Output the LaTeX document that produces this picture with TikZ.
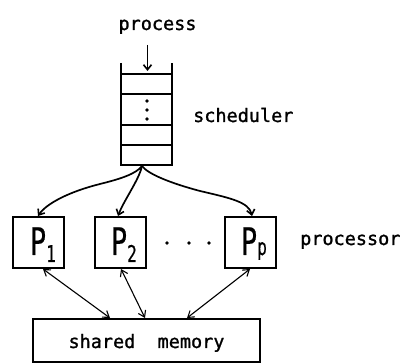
\documentclass[tikz,border=0pt]{standalone}
\usepackage{fontspec}
\setmonofont[FakeBold=1.2]{DejaVu Sans Mono}
\newfontfamily\pfont[FakeStretch=0.7,FakeBold=0.4]{DejaVu Sans Mono}
\usetikzlibrary{arrows.meta}
\begin{document}
\begin{tikzpicture}[x=1pt,y=-1pt,
  lbl/.style={inner sep=0pt,anchor=base,font=\ttfamily\fontsize{18.5}{20}\selectfont},
  pbox/.style={draw,line width=2pt,minimum width=51pt,minimum height=51pt,inner sep=0pt},
  ptext/.style={inner sep=0pt},
  wall/.style={line width=2pt},
  arr/.style={line width=1.7pt,-{Straight Barb[length=5pt,width=8pt,line width=1.6pt]}},
  biarr/.style={line width=1.1pt,{Straight Barb[length=6pt,width=8pt,line width=1.1pt]}-{Straight Barb[length=6pt,width=8pt,line width=1.1pt]}},
  dotc/.style={circle,fill,inner sep=0pt,minimum size=3.8pt}]
\useasboundingbox (0,0) rectangle (410,363);
% labels
\node[lbl] (proc) at (157.5,30) {process};
\node[lbl,anchor=base west] (sched) at (193,122) {scheduler};
\node[lbl,anchor=base west] (procr) at (300,245) {processor};
% stack
\draw[wall] (121,63) -- (121,165) -- (172,165) -- (172,63);
\foreach \yy in {74,94,125,145} \draw[wall] (121,\yy) -- (172,\yy);
\node[dotc] (d1) at (147,101) {};
\node[dotc] (d2) at (147,110) {};
\node[dotc] (d3) at (147,119) {};
\coordinate (intop) at (147.5,45);
\coordinate (inend) at (147.5,71);
\draw[arr] (intop) -- (inend);
% processors
\node[pbox] (p1) at (38.5,242.5) {};
\node[pbox] (p2) at (120,242.5) {};
\node[pbox] (pp) at (250.5,242.5) {};
\node[ptext,anchor=base] (t1) at (43,255) {\pfont\fontsize{38}{38}\selectfont P\raisebox{-7pt}{\fontsize{23}{23}\selectfont 1}};
\node[ptext,anchor=base] (t2) at (124,255) {\pfont\fontsize{38}{38}\selectfont P\raisebox{-7pt}{\fontsize{23}{23}\selectfont 2}};
\node[ptext,anchor=base] (tp) at (254,255) {\pfont\fontsize{38}{38}\selectfont P{\fontsize{23}{23}\selectfont p}};
\node[dotc] (e1) at (167,243) {};
\node[dotc] (e2) at (189,243) {};
\node[dotc] (e3) at (209,243) {};
% fork
\coordinate (fork) at (142,166);
\coordinate (lmid) at (100,184);
\coordinate (rmid) at (200,191);
\coordinate (tip1) at (38,216);
\coordinate (tip2) at (118,216);
\coordinate (tipp) at (252,216);
\draw[arr] (fork) .. controls +(-6,8) and +(20,-5) .. (lmid) .. controls +(-32,8) and +(8,-12) .. (tip1);
\draw[arr] (fork) .. controls (139,180) and (124,200) .. (tip2);
\draw[arr] (fork) .. controls +(6,8) and +(-30,-8) .. (rmid) .. controls +(30,7) and +(-3,-14) .. (tipp);
% memory
\node[draw,line width=2pt,minimum width=227pt,minimum height=43pt,inner sep=0pt] (mem) at (146.5,340.5) {};
\node[lbl] (memt) at (146.5,348) {shared~~memory};
\coordinate (b1) at (43,269);
\coordinate (b2) at (121,269);
\coordinate (bp) at (250,269);
\coordinate (m1) at (110,318);
\coordinate (m2) at (145,318);
\coordinate (mp) at (187,318);
\draw[biarr] (b1) -- (m1);
\draw[biarr] (b2) -- (m2);
\draw[biarr] (bp) -- (mp);
\end{tikzpicture}
\end{document}
